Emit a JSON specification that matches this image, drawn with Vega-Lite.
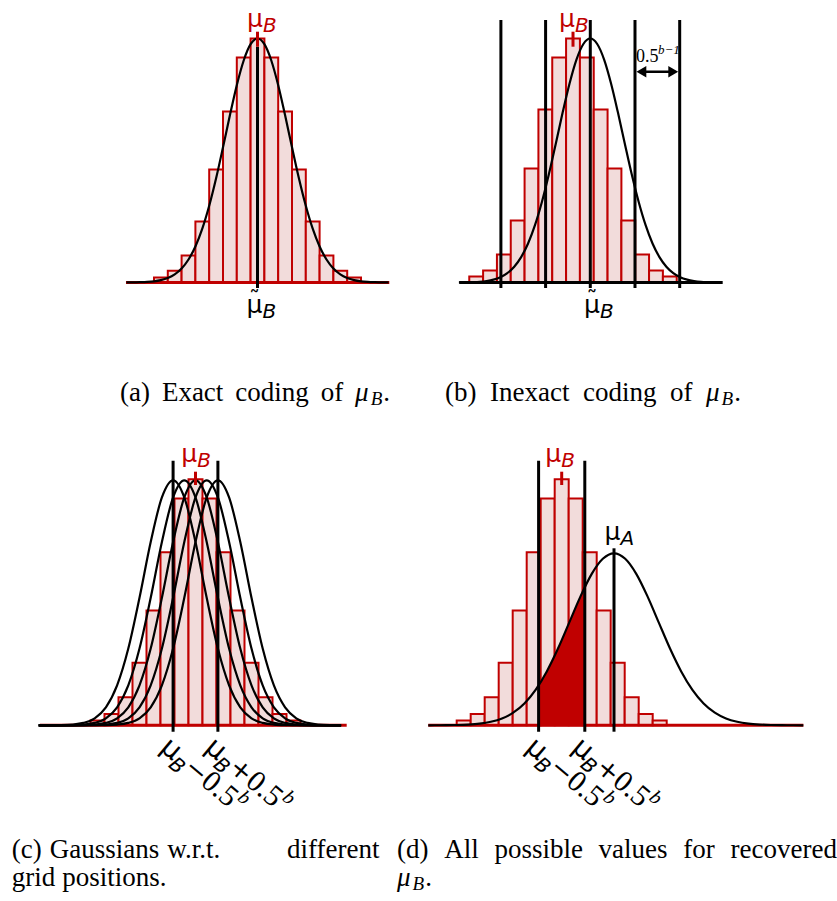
{
"$schema":"https://vega.github.io/schema/vega-lite/v6.json",
"padding":0,
"spacing":0,
"bounds":"flush",
"columns":2,
"background":"white",
"config":{"view":{"stroke":null}},
"concat":[
{
"width":418,"height":450,
"encoding":{
 "x":{"field":"x","type":"quantitative","scale":{"domain":[-18.659,11.63],"nice":false,"zero":false},"axis":null},
 "y":{"field":"y","type":"quantitative","scale":{"domain":[-167.5,282.5],"nice":false,"zero":false},"axis":null}},
"layer":[
 {"data":{"values":[
  {"x":-7.5,"x2":-6.5,"y":5,"y2":0},{"x":-6.5,"x2":-5.5,"y":11.7,"y2":0},{"x":-5.5,"x2":-4.5,"y":27,"y2":0},
  {"x":-4.5,"x2":-3.5,"y":61,"y2":0},{"x":-3.5,"x2":-2.5,"y":113,"y2":0},{"x":-2.5,"x2":-1.5,"y":171,"y2":0},
  {"x":-1.5,"x2":-0.5,"y":225,"y2":0},{"x":-0.5,"x2":0.5,"y":244,"y2":0},{"x":0.5,"x2":1.5,"y":225,"y2":0},
  {"x":1.5,"x2":2.5,"y":171,"y2":0},{"x":2.5,"x2":3.5,"y":113,"y2":0},{"x":3.5,"x2":4.5,"y":61,"y2":0},
  {"x":4.5,"x2":5.5,"y":27,"y2":0},{"x":5.5,"x2":6.5,"y":11.7,"y2":0},{"x":6.5,"x2":7.5,"y":5,"y2":0}]},
  "mark":{"type":"rect","fill":"#f2dcdb","stroke":"#c00000","strokeWidth":2},
  "encoding":{"x2":{"field":"x2"},"y2":{"field":"y2"}}},
 {"data":{"values":[{"x":-9.53,"x2":9.55,"y":0}]},"mark":{"type":"rule","color":"#c00000","strokeWidth":3},"encoding":{"x2":{"field":"x2"}}},
 {"data":{"values":[
  {"x":-9.5,"y":0.05},{"x":-9,"y":0.1},{"x":-8.5,"y":0.3},{"x":-8,"y":0.6},{"x":-7.5,"y":1.2},{"x":-7,"y":2.4},
  {"x":-6.5,"y":4.5},{"x":-6,"y":8.1},{"x":-5.5,"y":14},{"x":-5,"y":23},{"x":-4.5,"y":36},{"x":-4,"y":53.8},
  {"x":-3.5,"y":76.7},{"x":-3,"y":104.2},{"x":-2.5,"y":135.2},{"x":-2,"y":167.2},{"x":-1.5,"y":197.3},{"x":-1,"y":222},
  {"x":-0.5,"y":238.3},{"x":0,"y":244},{"x":0.5,"y":238.3},{"x":1,"y":222},{"x":1.5,"y":197.3},{"x":2,"y":167.2},
  {"x":2.5,"y":135.2},{"x":3,"y":104.2},{"x":3.5,"y":76.7},{"x":4,"y":53.8},{"x":4.5,"y":36},{"x":5,"y":23},
  {"x":5.5,"y":14},{"x":6,"y":8.1},{"x":6.5,"y":4.5},{"x":7,"y":2.4},{"x":7.5,"y":1.2},{"x":8,"y":0.6},
  {"x":8.5,"y":0.3},{"x":9,"y":0.1},{"x":9.5,"y":0.05}]},
  "mark":{"type":"line","color":"black","strokeWidth":2.2,"interpolate":"monotone"}},
 {"data":{"values":[{"x":0,"y":235.8,"y2":-5.5}]},"mark":{"type":"rule","color":"black","strokeWidth":3},"encoding":{"y2":{"field":"y2"}}},
 {"data":{"values":[{"x":0,"y":250.8,"y2":235.8}]},"mark":{"type":"rule","color":"#c00000","strokeWidth":3},"encoding":{"y2":{"field":"y2"}}},
 {"data":{"values":[{"x":-0.18,"y":255.5,"t":"μ","s":"B"}]},"layer":[
  {"mark":{"type":"text","font":"DejaVu Sans","fontSize":25,"align":"center","baseline":"alphabetic","color":"#c00000"},"encoding":{"text":{"field":"t"}}},
  {"mark":{"type":"text","font":"DejaVu Sans","fontSize":20,"fontStyle":"italic","align":"left","baseline":"alphabetic","dx":8,"dy":5,"color":"#c00000"},"encoding":{"text":{"field":"s"}}}]},
 {"data":{"values":[{"x":-0.22,"y":-30.5,"t":"μ","s":"B","w":"˜"}]},"layer":[
  {"mark":{"type":"text","font":"DejaVu Sans","fontSize":25,"align":"center","baseline":"alphabetic","color":"black"},"encoding":{"text":{"field":"t"}}},
  {"mark":{"type":"text","font":"DejaVu Sans","fontSize":20,"fontStyle":"italic","align":"left","baseline":"alphabetic","dx":8,"dy":5,"color":"black"},"encoding":{"text":{"field":"s"}}},
  {"mark":{"type":"text","font":"DejaVu Sans","fontSize":22,"align":"center","baseline":"alphabetic","dy":-7,"color":"black"},"encoding":{"text":{"field":"w"}}}]},
 {"data":{"values":[{"x":-9.964,"y":-118.2,"t":"(a)"},{"x":-6.928,"y":-118.2,"t":"Exact"},{"x":-1.609,"y":-118.2,"t":"coding"},{"x":4.58,"y":-118.2,"t":"of"},{"x":9.116,"y":-118.2,"t":"."}]},
  "mark":{"type":"text","font":"Liberation Serif","fontSize":27,"align":"left","baseline":"alphabetic","color":"black"},"encoding":{"text":{"field":"t"}}},
 {"data":{"values":[{"x":7.072,"y":-118.2,"t":"μ"}]},
  "mark":{"type":"text","font":"Liberation Serif","fontSize":27,"fontStyle":"italic","align":"left","baseline":"alphabetic","color":"black"},"encoding":{"text":{"field":"t"}}},
 {"data":{"values":[{"x":8.203,"y":-118.2,"t":"B"}]},
  "mark":{"type":"text","font":"Liberation Serif","fontSize":19,"fontStyle":"italic","align":"left","baseline":"alphabetic","dy":4,"color":"black"},"encoding":{"text":{"field":"t"}}}
]},
{
"width":419,"height":450,
"encoding":{
 "x":{"field":"x","type":"quantitative","scale":{"domain":[-12.458,17.838],"nice":false,"zero":false},"axis":null},
 "y":{"field":"y","type":"quantitative","scale":{"domain":[-167.5,282.5],"nice":false,"zero":false},"axis":null}},
"layer":[
 {"data":{"values":[
  {"x":-8.751,"x2":-7.751,"y":6,"y2":0},{"x":-7.751,"x2":-6.751,"y":12,"y2":0},{"x":-6.751,"x2":-5.751,"y":28,"y2":0},
  {"x":-5.751,"x2":-4.751,"y":62,"y2":0},{"x":-4.751,"x2":-3.751,"y":114,"y2":0},{"x":-3.751,"x2":-2.751,"y":173,"y2":0},
  {"x":-2.751,"x2":-1.751,"y":225,"y2":0},{"x":-1.751,"x2":-0.751,"y":244,"y2":0},{"x":-0.751,"x2":0.249,"y":225,"y2":0},
  {"x":0.249,"x2":1.249,"y":173,"y2":0},{"x":1.249,"x2":2.249,"y":114,"y2":0},{"x":2.249,"x2":3.249,"y":62,"y2":0},
  {"x":3.249,"x2":4.249,"y":28,"y2":0},{"x":4.249,"x2":5.249,"y":12,"y2":0},{"x":5.249,"x2":6.249,"y":6,"y2":0}]},
  "mark":{"type":"rect","fill":"#f2dcdb","stroke":"#c00000","strokeWidth":2},
  "encoding":{"x2":{"field":"x2"},"y2":{"field":"y2"}}},
 {"data":{"values":[{"x":-9.473,"x2":9.573,"y":0}]},"mark":{"type":"rule","color":"black","strokeWidth":3},"encoding":{"x2":{"field":"x2"}}},
 {"data":{"values":[{"x":-6.464,"y":262.5,"y2":-5.5},{"x":-3.232,"y":262.5,"y2":-5.5},{"x":0,"y":262.5,"y2":-5.5},{"x":3.232,"y":262.5,"y2":-5.5},{"x":6.464,"y":262.5,"y2":-5.5}]},
  "mark":{"type":"rule","color":"black","strokeWidth":3},"encoding":{"y2":{"field":"y2"}}},
 {"data":{"values":[
  {"x":-9.5,"y":0.07},{"x":-9,"y":0.16},{"x":-8.5,"y":0.35},{"x":-8,"y":0.7},{"x":-7.5,"y":1.5},{"x":-7,"y":2.9},
  {"x":-6.5,"y":5.3},{"x":-6,"y":9.4},{"x":-5.5,"y":15.8},{"x":-5,"y":25.4},{"x":-4.5,"y":39},{"x":-4,"y":57.3},
  {"x":-3.5,"y":80.5},{"x":-3,"y":108},{"x":-2.5,"y":138.6},{"x":-2,"y":169.9},{"x":-1.5,"y":199},{"x":-1,"y":222.9},
  {"x":-0.5,"y":238.5},{"x":0,"y":244},{"x":0.5,"y":238.5},{"x":1,"y":222.9},{"x":1.5,"y":199},{"x":2,"y":169.9},
  {"x":2.5,"y":138.6},{"x":3,"y":108},{"x":3.5,"y":80.5},{"x":4,"y":57.3},{"x":4.5,"y":39},{"x":5,"y":25.4},
  {"x":5.5,"y":15.8},{"x":6,"y":9.4},{"x":6.5,"y":5.3},{"x":7,"y":2.9},{"x":7.5,"y":1.5},{"x":8,"y":0.7},
  {"x":8.5,"y":0.35},{"x":9,"y":0.16},{"x":9.5,"y":0.07}]},
  "mark":{"type":"line","color":"black","strokeWidth":2.2,"interpolate":"monotone"}},
 {"data":{"values":[{"x":-1.25,"y":250.8,"y2":235.8}]},"mark":{"type":"rule","color":"#c00000","strokeWidth":3},"encoding":{"y2":{"field":"y2"}}},
 {"data":{"values":[{"x":3.7,"x2":6.0,"y":210.8}]},"mark":{"type":"rule","color":"black","strokeWidth":2.5},"encoding":{"x2":{"field":"x2"}}},
 {"data":{"values":[{"x":3.695,"y":210.8}]},"mark":{"type":"point","shape":"triangle-left","size":130,"filled":true,"color":"black","opacity":1}},
 {"data":{"values":[{"x":5.998,"y":210.8}]},"mark":{"type":"point","shape":"triangle-right","size":130,"filled":true,"color":"black","opacity":1}},
 {"data":{"values":[{"x":3.304,"y":220.8,"t":"0.5","s":"b−1"}]},"layer":[
  {"mark":{"type":"text","font":"Liberation Serif","fontSize":18,"align":"left","baseline":"alphabetic","color":"black"},"encoding":{"text":{"field":"t"}}},
  {"mark":{"type":"text","font":"Liberation Serif","fontSize":13,"fontStyle":"italic","align":"left","baseline":"alphabetic","dx":22,"dy":-8,"color":"black"},"encoding":{"text":{"field":"s"}}}]},
 {"data":{"values":[{"x":-1.685,"y":255.5,"t":"μ","s":"B"}]},"layer":[
  {"mark":{"type":"text","font":"DejaVu Sans","fontSize":25,"align":"center","baseline":"alphabetic","color":"#c00000"},"encoding":{"text":{"field":"t"}}},
  {"mark":{"type":"text","font":"DejaVu Sans","fontSize":20,"fontStyle":"italic","align":"left","baseline":"alphabetic","dx":8,"dy":5,"color":"#c00000"},"encoding":{"text":{"field":"s"}}}]},
 {"data":{"values":[{"x":0.12,"y":-30.5,"t":"μ","s":"B","w":"˜"}]},"layer":[
  {"mark":{"type":"text","font":"DejaVu Sans","fontSize":25,"align":"center","baseline":"alphabetic","color":"black"},"encoding":{"text":{"field":"t"}}},
  {"mark":{"type":"text","font":"DejaVu Sans","fontSize":20,"fontStyle":"italic","align":"left","baseline":"alphabetic","dx":8,"dy":5,"color":"black"},"encoding":{"text":{"field":"s"}}},
  {"mark":{"type":"text","font":"DejaVu Sans","fontSize":22,"align":"center","baseline":"alphabetic","dy":-7,"color":"black"},"encoding":{"text":{"field":"w"}}}]},
 {"data":{"values":[{"x":-10.506,"y":-118.2,"t":"(b)"},{"x":-7.252,"y":-118.2,"t":"Inexact"},{"x":-0.528,"y":-118.2,"t":"coding"},{"x":5.763,"y":-118.2,"t":"of"},{"x":10.405,"y":-118.2,"t":"."}]},
  "mark":{"type":"text","font":"Liberation Serif","fontSize":27,"align":"left","baseline":"alphabetic","color":"black"},"encoding":{"text":{"field":"t"}}},
 {"data":{"values":[{"x":8.366,"y":-118.2,"t":"μ"}]},
  "mark":{"type":"text","font":"Liberation Serif","fontSize":27,"fontStyle":"italic","align":"left","baseline":"alphabetic","color":"black"},"encoding":{"text":{"field":"t"}}},
 {"data":{"values":[{"x":9.494,"y":-118.2,"t":"B"}]},
  "mark":{"type":"text","font":"Liberation Serif","fontSize":19,"fontStyle":"italic","align":"left","baseline":"alphabetic","dy":4,"color":"black"},"encoding":{"text":{"field":"t"}}}
]},
{
"width":418,"height":451,
"encoding":{
 "x":{"field":"x","type":"quantitative","scale":{"domain":[-13.964,15.893],"nice":false,"zero":false},"axis":null},
 "y":{"field":"y","type":"quantitative","scale":{"domain":[-175.7,275.3],"nice":false,"zero":false},"axis":null}},
"layer":[
 {"data":{"values":[
  {"x":-7.5,"x2":-6.5,"y":4.7,"y2":0},{"x":-6.5,"x2":-5.5,"y":11.3,"y2":0},{"x":-5.5,"x2":-4.5,"y":28,"y2":0},
  {"x":-4.5,"x2":-3.5,"y":62.5,"y2":0},{"x":-3.5,"x2":-2.5,"y":114.7,"y2":0},{"x":-2.5,"x2":-1.5,"y":173,"y2":0},
  {"x":-1.5,"x2":-0.5,"y":226.7,"y2":0},{"x":-0.5,"x2":0.5,"y":246,"y2":0},{"x":0.5,"x2":1.5,"y":226.7,"y2":0},
  {"x":1.5,"x2":2.5,"y":173,"y2":0},{"x":2.5,"x2":3.5,"y":114.7,"y2":0},{"x":3.5,"x2":4.5,"y":62.5,"y2":0},
  {"x":4.5,"x2":5.5,"y":28,"y2":0},{"x":5.5,"x2":6.5,"y":11.3,"y2":0},{"x":6.5,"x2":7.5,"y":4.7,"y2":0}]},
  "mark":{"type":"rect","fill":"#f2dcdb","stroke":"#c00000","strokeWidth":2},
  "encoding":{"x2":{"field":"x2"},"y2":{"field":"y2"}}},
 {"data":{"values":[{"x":-11.107,"x2":10.8,"y":0}]},"mark":{"type":"rule","color":"#c00000","strokeWidth":3},"encoding":{"x2":{"field":"x2"}}},
 {"data":{"values":[
  {"x":-11.2,"a":0,"b":0,"c":0,"d":0,"e":0},
  {"x":-10.4,"a":0.04,"b":0,"c":0,"d":0,"e":0},
  {"x":-9.6,"a":0.17,"b":0.04,"c":0,"d":0,"e":0},
  {"x":-8.8,"a":0.7,"b":0.17,"c":0.04,"d":0,"e":0},
  {"x":-8.0,"a":2.4,"b":0.7,"c":0.17,"d":0.04,"e":0},
  {"x":-7.2,"a":7.0,"b":2.4,"c":0.7,"d":0.17,"e":0.04},
  {"x":-6.4,"a":18.0,"b":7.0,"c":2.4,"d":0.7,"e":0.17},
  {"x":-5.6,"a":39.9,"b":18.0,"c":7.0,"d":2.4,"e":0.7},
  {"x":-4.8,"a":76.7,"b":39.9,"c":18.0,"d":7.0,"e":2.4},
  {"x":-4.0,"a":127.5,"b":76.7,"c":39.9,"d":18.0,"e":7.0},
  {"x":-3.2,"a":183.3,"b":127.5,"c":76.7,"d":39.9,"e":18.0},
  {"x":-2.4,"a":227.9,"b":183.3,"c":127.5,"d":76.7,"e":39.9},
  {"x":-1.6,"a":245,"b":227.9,"c":183.3,"d":127.5,"e":76.7},
  {"x":-0.8,"a":227.9,"b":245,"c":227.9,"d":183.3,"e":127.5},
  {"x":0,"a":183.3,"b":227.9,"c":245,"d":227.9,"e":183.3},
  {"x":0.8,"a":127.5,"b":183.3,"c":227.9,"d":245,"e":227.9},
  {"x":1.6,"a":76.7,"b":127.5,"c":183.3,"d":227.9,"e":245},
  {"x":2.4,"a":39.9,"b":76.7,"c":127.5,"d":183.3,"e":227.9},
  {"x":3.2,"a":18.0,"b":39.9,"c":76.7,"d":127.5,"e":183.3},
  {"x":4.0,"a":7.0,"b":18.0,"c":39.9,"d":76.7,"e":127.5},
  {"x":4.8,"a":2.4,"b":7.0,"c":18.0,"d":39.9,"e":76.7},
  {"x":5.6,"a":0.7,"b":2.4,"c":7.0,"d":18.0,"e":39.9},
  {"x":6.4,"a":0.17,"b":0.7,"c":2.4,"d":7.0,"e":18.0},
  {"x":7.2,"a":0.04,"b":0.17,"c":0.7,"d":2.4,"e":7.0},
  {"x":8.0,"a":0,"b":0.04,"c":0.17,"d":0.7,"e":2.4},
  {"x":8.8,"a":0,"b":0,"c":0.04,"d":0.17,"e":0.7},
  {"x":9.6,"a":0,"b":0,"c":0,"d":0.04,"e":0.17},
  {"x":10.4,"a":0,"b":0,"c":0,"d":0,"e":0.04}]},
  "transform":[{"fold":["a","b","c","d","e"],"as":["g","y"]}],
  "mark":{"type":"line","color":"black","strokeWidth":2.2,"interpolate":"monotone"},
  "encoding":{"detail":{"field":"g"}}},
 {"data":{"values":[{"x":-1.6,"y":264.6,"y2":-6.4},{"x":1.6,"y":264.6,"y2":-6.4}]},"mark":{"type":"rule","color":"black","strokeWidth":3},"encoding":{"y2":{"field":"y2"}}},
 {"data":{"values":[{"x":0,"y":253.6,"y2":240.3}]},"mark":{"type":"rule","color":"#c00000","strokeWidth":3},"encoding":{"y2":{"field":"y2"}}},
 {"data":{"values":[{"x":-0.45,"y":263,"t":"μ","s":"B"}]},"layer":[
  {"mark":{"type":"text","font":"DejaVu Sans","fontSize":25,"align":"center","baseline":"alphabetic","color":"#c00000"},"encoding":{"text":{"field":"t"}}},
  {"mark":{"type":"text","font":"DejaVu Sans","fontSize":20,"fontStyle":"italic","align":"left","baseline":"alphabetic","dx":8,"dy":5,"color":"#c00000"},"encoding":{"text":{"field":"s"}}}]},
 {"data":{"values":[{"x":-1.6,"y":-7.7,"m":"μ","s":"B","o":"−","n":"0.5","p":"b"},{"x":1.6,"y":-7.7,"m":"μ","s":"B","o":"+","n":"0.5","p":"b"}]},"layer":[
  {"mark":{"type":"text","font":"DejaVu Sans","fontSize":28,"align":"left","baseline":"alphabetic","angle":40,"dx":0,"dy":22,"color":"black"},"encoding":{"text":{"field":"m"}}},
  {"mark":{"type":"text","font":"DejaVu Sans","fontSize":20,"fontStyle":"italic","align":"left","baseline":"alphabetic","angle":40,"dx":17,"dy":29,"color":"black"},"encoding":{"text":{"field":"s"}}},
  {"mark":{"type":"text","font":"DejaVu Sans","fontSize":26,"align":"left","baseline":"alphabetic","angle":40,"dx":31,"dy":22,"color":"black"},"encoding":{"text":{"field":"o"}}},
  {"mark":{"type":"text","font":"Liberation Serif","fontSize":30,"align":"left","baseline":"alphabetic","angle":40,"dx":53,"dy":22,"color":"black"},"encoding":{"text":{"field":"n"}}},
  {"mark":{"type":"text","font":"Liberation Serif","fontSize":20,"fontStyle":"italic","align":"left","baseline":"alphabetic","angle":40,"dx":91,"dy":10,"color":"black"},"encoding":{"text":{"field":"p"}}}]},
 {"data":{"values":[{"x":-13.129,"y":-132.2,"t":"(c)"},{"x":-10.414,"y":-132.2,"t":"Gaussians"},{"x":-2.021,"y":-132.2,"t":"w.r.t."},{"x":6.536,"y":-132.2,"t":"different"},{"x":-13.129,"y":-160.7,"t":"grid"},{"x":-9.521,"y":-160.7,"t":"positions."}]},
  "mark":{"type":"text","font":"Liberation Serif","fontSize":27,"align":"left","baseline":"alphabetic","color":"black"},"encoding":{"text":{"field":"t"}}}
]},
{
"width":419,"height":451,
"encoding":{
 "x":{"field":"x","type":"quantitative","scale":{"domain":[-10.264,19.664],"nice":false,"zero":false},"axis":null},
 "y":{"field":"y","type":"quantitative","scale":{"domain":[-175.7,275.3],"nice":false,"zero":false},"axis":null}},
"layer":[
 {"data":{"values":[
  {"x":-7.5,"x2":-6.5,"y":4.7,"y2":0},{"x":-6.5,"x2":-5.5,"y":11.3,"y2":0},{"x":-5.5,"x2":-4.5,"y":28,"y2":0},
  {"x":-4.5,"x2":-3.5,"y":62.5,"y2":0},{"x":-3.5,"x2":-2.5,"y":114.7,"y2":0},{"x":-2.5,"x2":-1.5,"y":173,"y2":0},
  {"x":-1.5,"x2":-0.5,"y":226.7,"y2":0},{"x":-0.5,"x2":0.5,"y":246,"y2":0},{"x":0.5,"x2":1.5,"y":226.7,"y2":0},
  {"x":1.5,"x2":2.5,"y":173,"y2":0},{"x":2.5,"x2":3.5,"y":114.7,"y2":0},{"x":3.5,"x2":4.5,"y":62.5,"y2":0},
  {"x":4.5,"x2":5.5,"y":28,"y2":0},{"x":5.5,"x2":6.5,"y":11.3,"y2":0},{"x":6.5,"x2":7.5,"y":4.7,"y2":0}]},
  "mark":{"type":"rect","fill":"#f2dcdb","stroke":"#c00000","strokeWidth":2},
  "encoding":{"x2":{"field":"x2"},"y2":{"field":"y2"}}},
 {"data":{"values":[{"x":-9.53,"x2":17.26,"y":0}]},"mark":{"type":"rule","color":"#c00000","strokeWidth":3},"encoding":{"x2":{"field":"x2"}}},
 {"data":{"values":[{"x":-1.65,"y":39.9},{"x":-1.2,"y":50.4},{"x":-0.8,"y":61.0},{"x":-0.4,"y":72.6},{"x":0,"y":85.1},{"x":0.4,"y":98.2},{"x":0.8,"y":111.4},{"x":1.2,"y":124.4},{"x":1.65,"y":138.1}]},
  "mark":{"type":"area","color":"#c00000","opacity":1,"interpolate":"monotone"},"encoding":{"y2":{"datum":0}}},
 {"data":{"values":[
  {"x":-9.53,"y":0.02},{"x":-9.064,"y":0.04},{"x":-8.264,"y":0.12},{"x":-7.464,"y":0.31},{"x":-6.664,"y":0.74},
  {"x":-5.864,"y":1.65},{"x":-5.064,"y":3.5},{"x":-4.264,"y":6.8},{"x":-3.464,"y":12.6},{"x":-2.664,"y":21.8},
  {"x":-1.864,"y":35.4},{"x":-1.064,"y":53.9},{"x":-0.264,"y":76.8},{"x":0.536,"y":102.7},{"x":1.336,"y":128.7},
  {"x":2.136,"y":151.2},{"x":2.936,"y":166.5},{"x":3.736,"y":172},{"x":4.536,"y":166.5},{"x":5.336,"y":151.2},
  {"x":6.136,"y":128.7},{"x":6.936,"y":102.7},{"x":7.736,"y":76.8},{"x":8.536,"y":53.9},{"x":9.336,"y":35.4},
  {"x":10.136,"y":21.8},{"x":10.936,"y":12.6},{"x":11.736,"y":6.8},{"x":12.536,"y":3.5},{"x":13.336,"y":1.65},
  {"x":14.136,"y":0.74},{"x":14.936,"y":0.31},{"x":15.736,"y":0.12},{"x":16.536,"y":0.04},{"x":17.26,"y":0.01}]},
  "mark":{"type":"line","color":"black","strokeWidth":2.2,"interpolate":"monotone"}},
 {"data":{"values":[{"x":-1.65,"y":264.6,"y2":-6.4},{"x":1.65,"y":264.6,"y2":-6.4},{"x":3.736,"y":177,"y2":-6.4}]},"mark":{"type":"rule","color":"black","strokeWidth":3},"encoding":{"y2":{"field":"y2"}}},
 {"data":{"values":[{"x":0,"y":253.6,"y2":240.3}]},"mark":{"type":"rule","color":"#c00000","strokeWidth":3},"encoding":{"y2":{"field":"y2"}}},
 {"data":{"values":[{"x":-0.6,"y":263,"t":"μ","s":"B"}]},"layer":[
  {"mark":{"type":"text","font":"DejaVu Sans","fontSize":25,"align":"center","baseline":"alphabetic","color":"#c00000"},"encoding":{"text":{"field":"t"}}},
  {"mark":{"type":"text","font":"DejaVu Sans","fontSize":20,"fontStyle":"italic","align":"left","baseline":"alphabetic","dx":8,"dy":5,"color":"#c00000"},"encoding":{"text":{"field":"s"}}}]},
 {"data":{"values":[{"x":3.63,"y":184.9,"t":"μ","s":"A"}]},"layer":[
  {"mark":{"type":"text","font":"DejaVu Sans","fontSize":25,"align":"center","baseline":"alphabetic","color":"black"},"encoding":{"text":{"field":"t"}}},
  {"mark":{"type":"text","font":"DejaVu Sans","fontSize":20,"fontStyle":"italic","align":"left","baseline":"alphabetic","dx":8,"dy":5,"color":"black"},"encoding":{"text":{"field":"s"}}}]},
 {"data":{"values":[{"x":-1.65,"y":-7.7,"m":"μ","s":"B","o":"−","n":"0.5","p":"b"},{"x":1.65,"y":-7.7,"m":"μ","s":"B","o":"+","n":"0.5","p":"b"}]},"layer":[
  {"mark":{"type":"text","font":"DejaVu Sans","fontSize":28,"align":"left","baseline":"alphabetic","angle":40,"dx":0,"dy":22,"color":"black"},"encoding":{"text":{"field":"m"}}},
  {"mark":{"type":"text","font":"DejaVu Sans","fontSize":20,"fontStyle":"italic","align":"left","baseline":"alphabetic","angle":40,"dx":17,"dy":29,"color":"black"},"encoding":{"text":{"field":"s"}}},
  {"mark":{"type":"text","font":"DejaVu Sans","fontSize":26,"align":"left","baseline":"alphabetic","angle":40,"dx":31,"dy":22,"color":"black"},"encoding":{"text":{"field":"o"}}},
  {"mark":{"type":"text","font":"Liberation Serif","fontSize":30,"align":"left","baseline":"alphabetic","angle":40,"dx":53,"dy":22,"color":"black"},"encoding":{"text":{"field":"n"}}},
  {"mark":{"type":"text","font":"Liberation Serif","fontSize":20,"fontStyle":"italic","align":"left","baseline":"alphabetic","angle":40,"dx":91,"dy":10,"color":"black"},"encoding":{"text":{"field":"p"}}}]},
 {"data":{"values":[{"x":-11.764,"y":-132.2,"t":"(d)"},{"x":-8.393,"y":-132.2,"t":"All"},{"x":-4.807,"y":-132.2,"t":"possible"},{"x":2.636,"y":-132.2,"t":"values"},{"x":8.686,"y":-132.2,"t":"for"},{"x":12.057,"y":-132.2,"t":"recovered"},{"x":-9.75,"y":-160.7,"t":"."}]},
  "mark":{"type":"text","font":"Liberation Serif","fontSize":27,"align":"left","baseline":"alphabetic","color":"black"},"encoding":{"text":{"field":"t"}}},
 {"data":{"values":[{"x":-11.764,"y":-160.7,"t":"μ"}]},
  "mark":{"type":"text","font":"Liberation Serif","fontSize":27,"fontStyle":"italic","align":"left","baseline":"alphabetic","color":"black"},"encoding":{"text":{"field":"t"}}},
 {"data":{"values":[{"x":-10.65,"y":-160.7,"t":"B"}]},
  "mark":{"type":"text","font":"Liberation Serif","fontSize":19,"fontStyle":"italic","align":"left","baseline":"alphabetic","dy":4,"color":"black"},"encoding":{"text":{"field":"t"}}}
]}
]
}
